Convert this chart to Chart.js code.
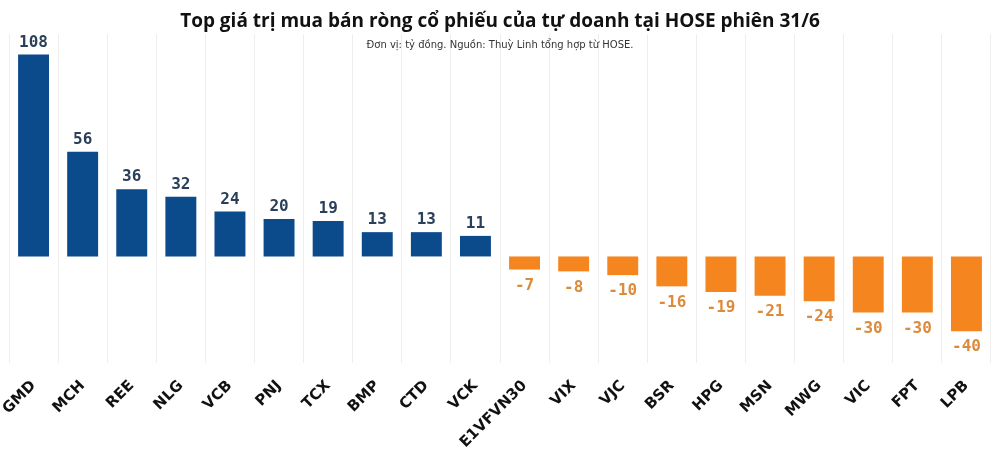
<!DOCTYPE html>
<html>
<head>
<meta charset="utf-8">
<script src="https://cdn.jsdelivr.net/npm/chart.js@4.4.0/dist/chart.umd.min.js"></script>
<style>
  html, body { margin: 0; padding: 0; background: #ffffff; }
  #wrap { width: 1000px; height: 457px; position: relative; }
</style>
</head>
<body>
<div id="wrap"><canvas id="c" width="1000" height="457"></canvas></div>
<script>
const categories = ["GMD","MCH","REE","NLG","VCB","PNJ","TCX","BMP","CTD","VCK","E1VFVN30","VIX","VJC","BSR","HPG","MSN","MWG","VIC","FPT","LPB"];
const netValues = [108,56,36,32,24,20,19,13,13,11,-7,-8,-10,-16,-19,-21,-24,-30,-30,-40];
const titleText = "Top giá trị mua bán ròng cổ phiếu của tự doanh tại HOSE phiên 31/6";
const subtitleText = "Đơn vị: tỷ đồng. Nguồn: Thuỳ Linh tổng hợp từ HOSE.";

const BLUE = "#0b4a8b";
const ORANGE = "#f5861f";
const BLUE_LABEL = "#2a3f5a";
const ORANGE_LABEL = "#dc8a3c";

const textPlugin = {
  id: "texts",
  afterDraw(chart) {
    const ctx = chart.ctx;
    ctx.save();
    ctx.textAlign = "center";
    ctx.textBaseline = "alphabetic";
    ctx.fillStyle = "#111111";
    ctx.font = "bold 19px 'Open Sans'";
    ctx.fillText(titleText, 500, 27);
    ctx.fillStyle = "#333333";
    ctx.font = "10px 'DejaVu Sans'";
    ctx.fillText(subtitleText, 500, 48);

    const meta = chart.getDatasetMeta(0);
    ctx.font = "bold 16px 'DejaVu Sans Mono'";
    meta.data.forEach((bar, i) => {
      const v = netValues[i];
      if (v >= 0) {
        ctx.fillStyle = BLUE_LABEL;
        ctx.textBaseline = "bottom";
        ctx.fillText(String(v), bar.x, bar.y - 4);
      } else {
        ctx.fillStyle = ORANGE_LABEL;
        ctx.textBaseline = "top";
        ctx.fillText(String(v), bar.x, bar.y + 8);
      }
    });
    ctx.restore();
  }
};

new Chart(document.getElementById("c"), {
  type: "bar",
  data: {
    labels: categories,
    datasets: [{
      data: netValues,
      backgroundColor: netValues.map(v => v >= 0 ? BLUE : ORANGE),
      borderWidth: 0,
      barPercentage: 0.63,
      categoryPercentage: 1.0
    }]
  },
  options: {
    responsive: false,
    animation: false,
    layout: { padding: { top: 34, left: 9, right: 9, bottom: 0 } },
    plugins: { legend: { display: false }, tooltip: { enabled: false }, title: { display: false } },
    scales: {
      x: {
        afterFit(scale) {
          scale.height = 94;
          scale.paddingLeft = 0;
          scale.paddingRight = 0;
        },
        grid: { display: true, color: "#eeeeee", drawTicks: false, offset: true },
        border: { display: false },
        ticks: {
          autoSkip: false,
          minRotation: 45,
          maxRotation: 45,
          padding: 14,
          color: "#111111",
          font: { family: "'DejaVu Sans'", weight: "bold", size: 15 }
        }
      },
      y: {
        display: false,
        min: -57,
        max: 119
      }
    }
  },
  plugins: [textPlugin]
});
</script>
</body>
</html>
